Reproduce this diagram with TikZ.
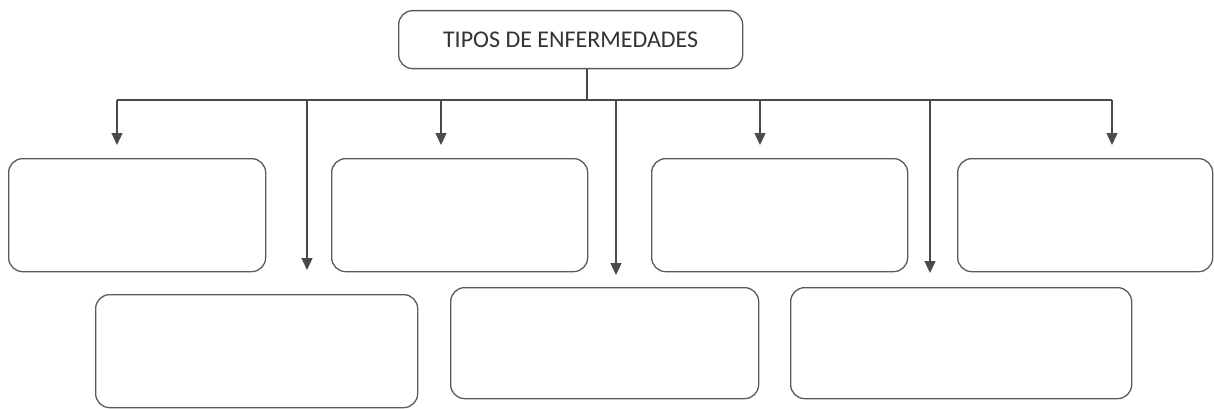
\documentclass[tikz,border=0pt]{standalone}
\usepackage{fontspec}
\setmainfont{Carlito}
\usetikzlibrary{arrows.meta,calc}
\definecolor{linegray}{HTML}{4A4A4A}
\definecolor{boxgray}{HTML}{5A5A5A}
\begin{document}
\begin{tikzpicture}[x=1pt,y=-1pt,
        box/.style={draw=boxgray, line width=1.3pt, rounded corners=14pt, fill=white, anchor=north west, inner sep=0pt},
        wire/.style={draw=linegray, line width=1.3pt},
        arr/.style={wire, -{Triangle[width=11pt,length=12pt]}}]
            \useasboundingbox (0,0) rectangle (1214,409);

            \node[box, minimum width=344, minimum height=58, font=\fontsize{24}{28}\selectfont\color{black!80}] (title) at (398,10) {TIPOS DE ENFERMEDADES};

            \node[box, minimum width=257, minimum height=113] (b1) at (8,158) {};
            \node[box, minimum width=256, minimum height=113] (b2) at (331,158) {};
            \node[box, minimum width=256, minimum height=113] (b3) at (651,158) {};
            \node[box, minimum width=255, minimum height=113] (b4) at (957,158) {};
            \node[box, minimum width=322, minimum height=113] (b5) at (95,294) {};
            \node[box, minimum width=308, minimum height=111] (b6) at (450,287) {};
            \node[box, minimum width=341, minimum height=111] (b7) at (790,287) {};

            \coordinate (bus) at (587,100);
            \coordinate (busl) at (117,100);
            \coordinate (busr) at (1112,100);

            \draw[wire] (title.south -| bus) -- (bus);
            \draw[wire] (busl) -- (busr);

            % short arrows to the upper row
            \foreach \x/\b in {117/b1, 441/b2, 760/b3, 1112/b4}
                \draw[arr] (\x,100) -- ($(\b.north -| \x,0)+(0,-13)$);

            % long arrows to the lower row
            \draw[arr] (307,100) -- ($(b5.north -| 307,0)+(0,-24)$);
            \draw[arr] (616,100) -- ($(b6.north -| 616,0)+(0,-12)$);
            \draw[arr] (930,100) -- ($(b7.north -| 930,0)+(0,-14)$);
        \end{tikzpicture}
\end{document}
